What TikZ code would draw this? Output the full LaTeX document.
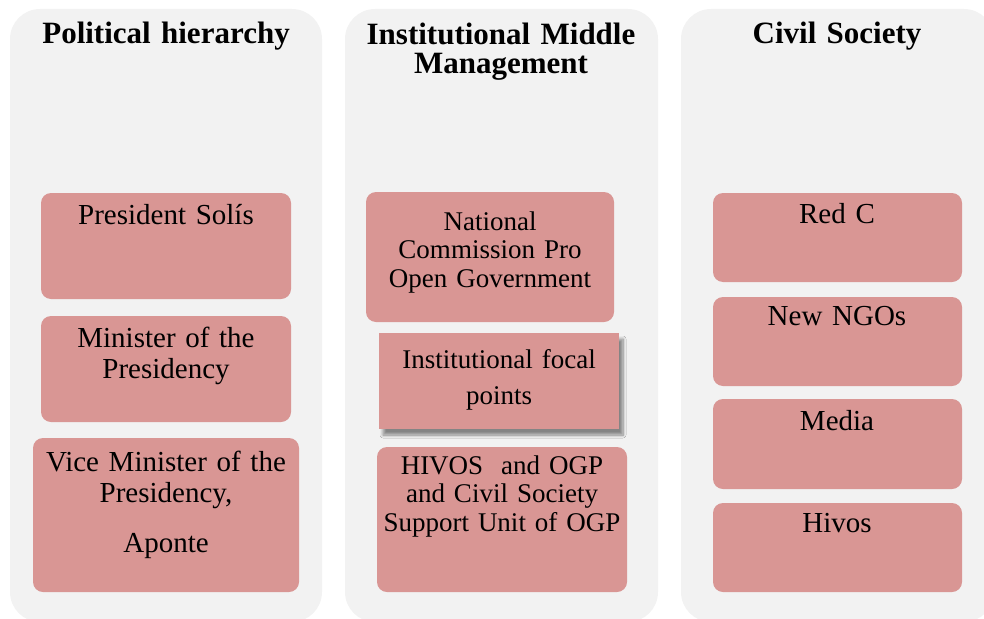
\documentclass[tikz,border=0pt]{standalone}
\usepackage{fontspec}
\setmainfont{Liberation Serif}
\usetikzlibrary{shadows.blur}
\definecolor{panelgray}{HTML}{F2F2F2}
\definecolor{boxrose}{HTML}{D99694}
\begin{document}
\begin{tikzpicture}[x=1pt,y=-1pt,
  panel/.style={fill=panelgray,rounded corners=30pt},
  box/.style={fill=boxrose,rounded corners=10pt},
  head/.style={anchor=base,inner sep=0pt,text width=320pt,align=center,font=\bfseries\fontsize{31}{29}\selectfont},
  lbl/.style={anchor=base,inner sep=0pt,text width=290pt,align=center,font=\fontsize{29}{31}\selectfont},
  lblsmall/.style={lbl,font=\fontsize{27}{28.5}\selectfont}]

\useasboundingbox (0,0) rectangle (984,618);

%1
\fill[panel] (10,9) rectangle (322,622);
\node[head] (polhead) at (166,44) {Political hierarchy};
\fill[box] (41,193) rectangle (291,299);
\node[lbl] (president) at (166,224) {President Solís};
\fill[box] (41,316) rectangle (291,422);
\node[lbl] (minister) at (166,347) {Minister of the\\Presidency};
\fill[box] (33,438) rectangle (299,592);
\node[lbl] (viceminister) at (166,471) {Vice Minister of the\\Presidency,\\[19pt]Aponte};

%2
\fill[panel] (345,9) rectangle (658,622);
\node[head] (inshead) at (501,45) {Institutional Middle\\Management};
\fill[box] (366,192) rectangle (614,322);
\node[lblsmall] (commission) at (490,230) {National\\Commission Pro\\Open Government};
\fill[boxrose,blur shadow={shadow xshift=4pt,shadow yshift=-6pt,shadow blur radius=3pt,shadow blur steps=8,shadow opacity=45}] (379,333) rectangle (619,429);
\node[lblsmall] (focal) at (499,368) {Institutional focal\\[8pt]points};
\fill[box] (377,447) rectangle (627,592);
\node[lblsmall] (hivosogp) at (502,474) {HIVOS~ and OGP\\and Civil Society\\Support Unit of OGP};

%3
\fill[panel] (681,9) rectangle (994,622);
\node[head] (civhead) at (837,44) {Civil Society};
\fill[box] (713,193) rectangle (962,282);
\node[lbl] (redc) at (837,223) {Red C};
\fill[box] (713,297) rectangle (962,386);
\node[lbl] (ngos) at (837,325) {New NGOs};
\fill[box] (713,399) rectangle (962,489);
\node[lbl] (media) at (837,430) {Media};
\fill[box] (713,503) rectangle (962,592);
\node[lbl] (hivos) at (837,532) {Hivos};
\end{tikzpicture}
\end{document}
